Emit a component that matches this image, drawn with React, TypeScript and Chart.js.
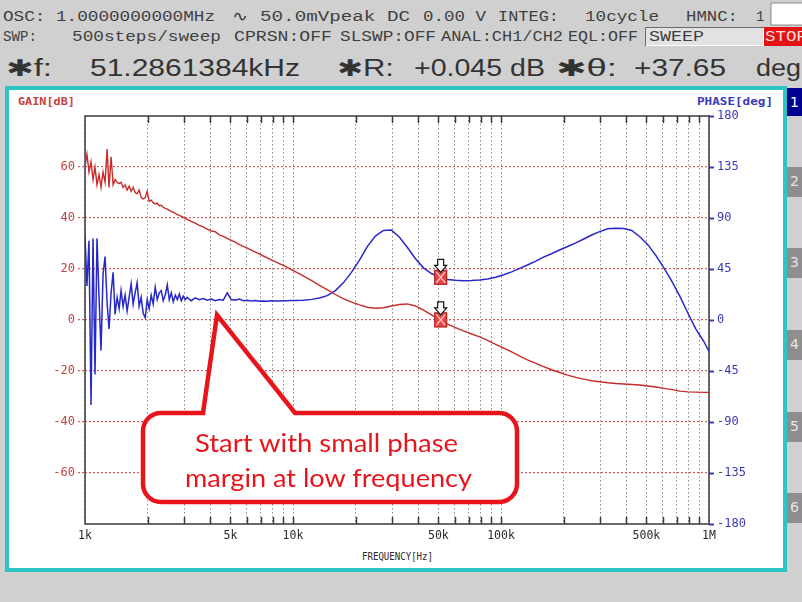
import React, { useEffect, useRef } from 'react';
import { Chart, registerables } from 'chart.js';

Chart.register(...registerables);

// ---------- data ----------
const frequencyHz = [
  1000, 1022, 1045, 1069, 1093, 1117, 1142, 1168, 1194, 1221, 1249, 1277, 1305, 1335, 1365, 1395, 1427,
  1459, 1491, 1525, 1559, 1594, 1630, 1667, 1704, 1742, 1781, 1821, 1862, 1904, 1947, 1991, 2035, 2081,
  2128, 2176, 2225, 2275, 2326, 2378, 2431, 2486, 2542, 2599, 2657, 2717, 2778, 2840, 2904, 2969, 3036,
  3100, 3240, 3390, 3540, 3700, 3870, 4050, 4230, 4420, 4620, 4830, 5050, 5280, 5520, 5770, 6030, 6300,
  6590, 6890, 7200, 7520, 7860, 8220, 8590, 8980, 9390, 9810,
  10260, 11200, 12300, 13400, 14600, 16000, 17500, 19100, 20900, 22800, 24900, 27200, 29700, 32500,
  35500, 38800, 42400, 46300, 50600, 55300, 60400, 66000, 72200, 78900, 86200, 94200, 103000, 112500,
  123000, 134000, 147000, 160000, 175000, 191000, 209000, 229000, 250000, 273000, 298000, 326000, 356000,
  389000, 425000, 465000, 508000, 555000, 607000, 663000, 724000, 792000, 865000, 945000, 1000000,
];

const gainDb = [
  60, 65, 58, 62, 55, 60, 53, 57, 52, 58, 54, 67, 52, 64, 53, 55, 54,
  53.5, 54, 52, 53, 51, 52.5, 50.5, 52, 50, 49.5, 51, 48, 47.5, 48, 50.5, 46.5, 47,
  46, 45.5, 45.8, 44.8, 45, 44.2, 43.8, 43.5, 43, 42.6, 42.2, 41.8, 41.3, 41, 40.6, 40.2, 39.8,
  39.5, 38.7, 38.0, 37.1, 36.5, 35.6, 34.9, 34.6, 33.4, 32.8, 32.0, 31.2, 30.5, 29.6, 28.9, 28.2, 27.4,
  26.6, 25.9, 25.1, 24.4, 23.6, 22.9, 22.1, 21.4, 20.6, 19.8,
  19.0, 17.3, 15.4, 13.6, 11.9, 10.0, 8.3, 7.0, 5.9, 5.0, 4.6, 4.8, 5.5, 6.1,
  6.3, 5.5, 3.9, 2.0, 0.1, -1.6, -3.0, -4.3, -5.5, -6.6, -8.0, -9.6, -11.0, -12.5,
  -14.2, -15.6, -17.0, -18.3, -19.5, -20.6, -21.6, -22.5, -23.2, -23.8, -24.2, -24.6, -24.9,
  -25.1, -25.3, -25.5, -25.9, -26.3, -26.8, -27.3, -27.9, -28.2, -28.3, -28.4, -28.4,
];

const phaseDeg = [
  75, 30, 70, -75, 72, -48, 72, 20, -27, 40, 56, 15, -8, 24, 42, 5, 20,
  10, 26, 12, 22, 8, 20, 32, 14, 24, 33, 12, 20, 6, 2, 18, 10, 22,
  14, 29, 18, 24, 26, 17, 22, 31, 18, 24, 16, 22, 18, 23, 17, 21, 18,
  20, 17, 19.5, 18, 19, 17.5, 18.5, 17, 18, 17.5, 24, 18, 17.5, 18.5, 17, 17.5, 16.8,
  17.2, 16.5, 16.8, 16.6, 16.9, 16.7, 16.8, 16.9, 17, 17.1,
  17.2, 17.5, 18.2, 19.5, 21.5, 26, 33, 42, 53, 65, 74, 79, 79.5, 73,
  64, 54, 46, 41, 37.65, 35.8, 35, 34.7, 34.8, 35.3, 36.2, 37.8, 40, 42.5,
  45.5, 48.5, 52, 55.5, 58.5, 61.8, 64.8, 68, 71.5, 75, 78, 80.5, 81,
  80.8, 79, 73.5, 66.5, 57, 46, 34, 21, 6, -8, -19, -28,
];

const gainTickValues = [-60, -40, -20, 0, 20, 40, 60];
const phaseTickValues = [-180, -135, -90, -45, 0, 45, 90, 135, 180];
const freqGridValues = [
  1000, 2000, 3000, 4000, 5000, 6000, 7000, 8000, 9000,
  10000, 20000, 30000, 40000, 50000, 60000, 70000, 80000, 90000,
  100000, 200000, 300000, 400000, 500000, 600000, 700000, 800000, 900000,
  1000000,
];
const freqTickLabels: Record<number, string> = {
  1000: '1k', 5000: '5k', 10000: '10k', 50000: '50k', 100000: '100k', 500000: '500k', 1000000: '1M',
};
const markerFreqHz = [51286.1384];
const markerGainDb = [0.045];
const markerPhaseDeg = [37.65];

// ---------- styles ----------
const GAIN_COLOR = '#c62c2c';
const PHASE_COLOR = '#2828c8';
const GAIN_LABEL = '#c84040';
const PHASE_LABEL = '#3a3ab8';
const MONO = '"DejaVu Sans Mono", monospace';
const HMONO = '"Liberation Mono", "DejaVu Sans Mono", monospace';
const TEAL = '#2cc4c4';
const CALLOUT_RED = '#e8141c';

const framePlugin = {
  id: 'frameTicks',
  beforeDatasetsDraw(chart: any) {
    const { ctx, chartArea: a, scales } = chart;
    const xs = scales.x;
    ctx.save();
    ctx.strokeStyle = '#3a3a3a';
    ctx.lineWidth = 1.5;
    ctx.strokeRect(a.left, a.top, a.right - a.left, a.bottom - a.top);
    ctx.beginPath();
    for (const f of freqGridValues) {
      if (f <= 1000 || f >= 1000000) continue;
      const x = Math.round(xs.getPixelForValue(f)) + 0.5;
      ctx.moveTo(x, a.top);
      ctx.lineTo(x, a.top + 7);
      ctx.moveTo(x, a.bottom);
      ctx.lineTo(x, a.bottom - 7);
    }
    ctx.stroke();
    ctx.restore();
  },
};

function drawMarker(ctx: CanvasRenderingContext2D, x: number, y: number) {
  const w = 13;
  const h = 15;
  ctx.save();
  ctx.fillStyle = '#e24646';
  ctx.fillRect(x - w / 2, y - h / 2, w, h);
  ctx.strokeStyle = 'rgba(255,220,220,0.9)';
  ctx.lineWidth = 1.2;
  ctx.beginPath();
  ctx.moveTo(x - w / 2 + 2, y - h / 2 + 2);
  ctx.lineTo(x + w / 2 - 2, y + h / 2 - 2);
  ctx.moveTo(x + w / 2 - 2, y - h / 2 + 2);
  ctx.lineTo(x - w / 2 + 2, y + h / 2 - 2);
  ctx.stroke();
  ctx.strokeStyle = '#b02020';
  ctx.lineWidth = 1;
  ctx.strokeRect(x - w / 2 + 0.5, y - h / 2 + 0.5, w - 1, h - 1);
  const top = y - 18;
  ctx.beginPath();
  ctx.moveTo(x - 3, top);
  ctx.lineTo(x + 3, top);
  ctx.lineTo(x + 3, top + 6);
  ctx.lineTo(x + 6, top + 6);
  ctx.lineTo(x, top + 13);
  ctx.lineTo(x - 6, top + 6);
  ctx.lineTo(x - 3, top + 6);
  ctx.closePath();
  ctx.fillStyle = '#ffffff';
  ctx.fill();
  ctx.strokeStyle = '#111111';
  ctx.lineWidth = 1.2;
  ctx.stroke();
  ctx.restore();
}

const markerPlugin = {
  id: 'markers',
  afterDatasetsDraw(chart: any) {
    const { ctx, scales } = chart;
    for (let i = 0; i < markerFreqHz.length; i++) {
      const x = scales.x.getPixelForValue(markerFreqHz[i]);
      drawMarker(ctx, x, scales.yPhase.getPixelForValue(markerPhaseDeg[i]));
      drawMarker(ctx, x, scales.yGain.getPixelForValue(markerGainDb[i]));
    }
  },
};

export default function App() {
  const canvasRef = useRef<HTMLCanvasElement>(null);

  useEffect(() => {
    document.body.style.margin = '0';
    document.body.style.overflow = 'hidden';
    const canvas = canvasRef.current;
    if (!canvas) return;
    const chart = new Chart(canvas, {
      type: 'line',
      data: {
        datasets: [
          {
            label: 'GAIN',
            data: frequencyHz.map((f, i) => ({ x: f, y: gainDb[i] })),
            yAxisID: 'yGain',
            borderColor: GAIN_COLOR,
            borderWidth: 1.4,
            pointRadius: 0,
            tension: 0,
          },
          {
            label: 'PHASE',
            data: frequencyHz.map((f, i) => ({ x: f, y: phaseDeg[i] })),
            yAxisID: 'yPhase',
            borderColor: PHASE_COLOR,
            borderWidth: 1.5,
            pointRadius: 0,
            tension: 0,
          },
        ],
      },
      options: {
        responsive: false,
        animation: false,
        devicePixelRatio: 1,
        layout: { padding: { left: 0, right: 0, top: 116, bottom: 48 } },
        plugins: { legend: { display: false }, tooltip: { enabled: false } },
        scales: {
          x: {
            type: 'logarithmic',
            position: 'bottom',
            min: 1000,
            max: 1000000,
            afterBuildTicks: (s: any) => {
              s.ticks = freqGridValues.map((v) => ({ value: v }));
            },
            afterFit: (s: any) => {
              s.height = 30;
            },
            ticks: {
              autoSkip: false,
              maxRotation: 0,
              padding: 5,
              color: '#2a2a2a',
              font: { family: MONO, size: 11.5 },
              callback: (v: any) => freqTickLabels[Number(v)] ?? '',
            },
            grid: { color: '#8a8a8a', lineWidth: 1, drawTicks: false },
            border: { display: false, dash: [1.5, 2.5] },
          },
          yGain: {
            type: 'linear',
            position: 'left',
            min: -80,
            max: 80,
            afterBuildTicks: (s: any) => {
              s.ticks = gainTickValues.map((v) => ({ value: v }));
            },
            afterFit: (s: any) => {
              s.width = 85;
            },
            ticks: {
              padding: 3,
              color: GAIN_LABEL,
              font: { family: MONO, size: 12 },
              callback: (v: any) => String(v),
            },
            grid: {
              color: '#de5a5a',
              lineWidth: 1.2,
              drawTicks: true,
              tickLength: 7,
              tickColor: '#de5a5a',
              tickBorderDash: [2, 2],
            },
            border: { display: false, dash: [2, 2] },
          },
          yPhase: {
            type: 'linear',
            position: 'right',
            min: -180,
            max: 180,
            afterBuildTicks: (s: any) => {
              s.ticks = phaseTickValues.map((v) => ({ value: v }));
            },
            afterFit: (s: any) => {
              s.width = 93;
            },
            ticks: {
              padding: 3,
              color: PHASE_LABEL,
              font: { family: MONO, size: 12 },
              callback: (v: any) => String(v),
            },
            grid: {
              drawOnChartArea: false,
              drawTicks: true,
              tickLength: 5,
              tickColor: PHASE_LABEL,
              tickWidth: 2,
            },
            border: { display: false },
          },
        },
      },
      plugins: [framePlugin, markerPlugin],
    } as any);
    return () => chart.destroy();
  }, []);

  const hdr = { fontFamily: HMONO, fontSize: 14, fill: '#404040' } as const;
  const big = { fontFamily: '"Liberation Sans", "DejaVu Sans", sans-serif', fontSize: 23, fill: '#333333' } as const;
  const tabs = [
    { n: '1', y: 88, active: true },
    { n: '2', y: 167, active: false },
    { n: '3', y: 248, active: false },
    { n: '4', y: 330, active: false },
    { n: '5', y: 412, active: false },
    { n: '6', y: 493, active: false },
  ];

  return (
    <div style={{ position: 'absolute', left: 0, top: 0, width: 802, height: 602, overflow: 'hidden' }}>
      <svg width={802} height={602} style={{ position: 'absolute', left: 0, top: 0 }}>
        <rect x={0} y={0} width={802} height={602} fill="#d0d0d0" />
        {/* header row 1 */}
        <text x={3} y={21} {...hdr} textLength={212} lengthAdjust="spacingAndGlyphs">OSC: 1.0000000000MHz</text>
        <text x={232} y={21} {...hdr} textLength={178} lengthAdjust="spacingAndGlyphs">∿ 50.0mVpeak DC</text>
        <text x={423} y={21} {...hdr} textLength={63} lengthAdjust="spacingAndGlyphs">0.00 V</text>
        <text x={498} y={21} {...hdr} textLength={61} lengthAdjust="spacingAndGlyphs">INTEG:</text>
        <text x={585} y={21} {...hdr} textLength={74} lengthAdjust="spacingAndGlyphs">10cycle</text>
        <text x={686} y={21} {...hdr} textLength={52} lengthAdjust="spacingAndGlyphs">HMNC:</text>
        <text x={756} y={21} {...hdr}>1</text>
        <rect x={771} y={3} width={32} height={22} fill="#ffffff" stroke="#8a8a8a" strokeWidth={1} />
        {/* header row 2 */}
        <text x={3} y={41} {...hdr} textLength={34} lengthAdjust="spacingAndGlyphs">SWP:</text>
        <text x={72} y={41} {...hdr} textLength={149} lengthAdjust="spacingAndGlyphs">500steps/sweep</text>
        <text x={234} y={41} {...hdr} textLength={98} lengthAdjust="spacingAndGlyphs">CPRSN:OFF</text>
        <text x={340} y={41} {...hdr} textLength={96} lengthAdjust="spacingAndGlyphs">SLSWP:OFF</text>
        <text x={441} y={41} {...hdr} textLength={122} lengthAdjust="spacingAndGlyphs">ANAL:CH1/CH2</text>
        <text x={568} y={41} {...hdr} textLength={70} lengthAdjust="spacingAndGlyphs">EQL:OFF</text>
        <rect x={645} y={27} width={119} height={19} fill="#e2e2e2" />
        <path d="M645.5 46 L645.5 27.5 L764 27.5" stroke="#6a6a6a" strokeWidth={1} fill="none" />
        <path d="M646 45.5 L763.5 45.5 L763.5 28" stroke="#ffffff" strokeWidth={1} fill="none" />
        <text x={649} y={41} {...hdr} textLength={55} lengthAdjust="spacingAndGlyphs">SWEEP</text>
        <rect x={764} y={27} width={38} height={19} fill="#e41212" />
        <text x={765} y={41} {...hdr} fill="#ffdede" textLength={42} lengthAdjust="spacingAndGlyphs">STOP</text>
        {/* header row 3 */}
        <text x={6} y={76} {...big} textLength={46} lengthAdjust="spacingAndGlyphs">✱f:</text>
        <text x={90} y={76} {...big} textLength={210} lengthAdjust="spacingAndGlyphs">51.2861384kHz</text>
        <text x={337} y={76} {...big} textLength={57} lengthAdjust="spacingAndGlyphs">✱R:</text>
        <text x={414} y={76} {...big} textLength={131} lengthAdjust="spacingAndGlyphs">+0.045 dB</text>
        <text x={556} y={76} {...big} textLength={61} lengthAdjust="spacingAndGlyphs">✱θ:</text>
        <text x={634} y={76} {...big} textLength={92} lengthAdjust="spacingAndGlyphs">+37.65</text>
        <text x={756} y={76} {...big} textLength={45} lengthAdjust="spacingAndGlyphs">deg</text>
        {/* teal frame with white panel */}
        <rect x={7} y={88} width={778} height={482} fill="#ffffff" stroke={TEAL} strokeWidth={4} />
        {/* side tabs */}
        {tabs.map((t) => (
          <g key={t.n}>
            <rect x={787} y={t.y} width={15} height={t.active ? 28 : 30} fill={t.active ? '#000090' : '#8e8e8e'} />
            <text
              x={794.5}
              y={t.y + 19}
              textAnchor="middle"
              fontFamily='"DejaVu Sans", sans-serif'
              fontSize={14}
              fill={t.active ? '#ffffff' : '#e6e6e6'}
            >
              {t.n}
            </text>
          </g>
        ))}
        {/* axis titles */}
        <text x={18} y={105} fontFamily={MONO} fontSize={10.5} fontWeight="bold" fill={GAIN_LABEL} textLength={57} lengthAdjust="spacingAndGlyphs">GAIN[dB]</text>
        <text x={697} y={105} fontFamily={MONO} fontSize={10.5} fontWeight="bold" fill={PHASE_LABEL} textLength={76} lengthAdjust="spacingAndGlyphs">PHASE[deg]</text>
        <text x={362} y={560} fontFamily={MONO} fontSize={11} fill="#2a2a2a" textLength={71} lengthAdjust="spacingAndGlyphs">FREQUENCY[Hz]</text>
      </svg>
      <canvas
        ref={canvasRef}
        width={802}
        height={602}
        style={{ position: 'absolute', left: 0, top: 0, width: 802, height: 602 }}
      />
      <svg width={802} height={602} style={{ position: 'absolute', left: 0, top: 0, pointerEvents: 'none' }}>
        <path
          d="M161 413 L203 413 L217 315 L295 413 L499 413 A18 18 0 0 1 517 431 L517 484 A18 18 0 0 1 499 502 L161 502 A18 18 0 0 1 143 484 L143 431 A18 18 0 0 1 161 413 Z"
          fill="#ffffff"
          stroke={CALLOUT_RED}
          strokeWidth={4.5}
          strokeLinejoin="miter"
          strokeMiterlimit={12}
        />
        <text x={195} y={452} fontFamily='Lato, "Open Sans", sans-serif' fontSize={25} fill={CALLOUT_RED} textLength={263} lengthAdjust="spacingAndGlyphs">
          Start with small phase
        </text>
        <text x={185} y={487} fontFamily='Lato, "Open Sans", sans-serif' fontSize={25} fill={CALLOUT_RED} textLength={287} lengthAdjust="spacingAndGlyphs">
          margin at low frequency
        </text>
      </svg>
    </div>
  );
}
